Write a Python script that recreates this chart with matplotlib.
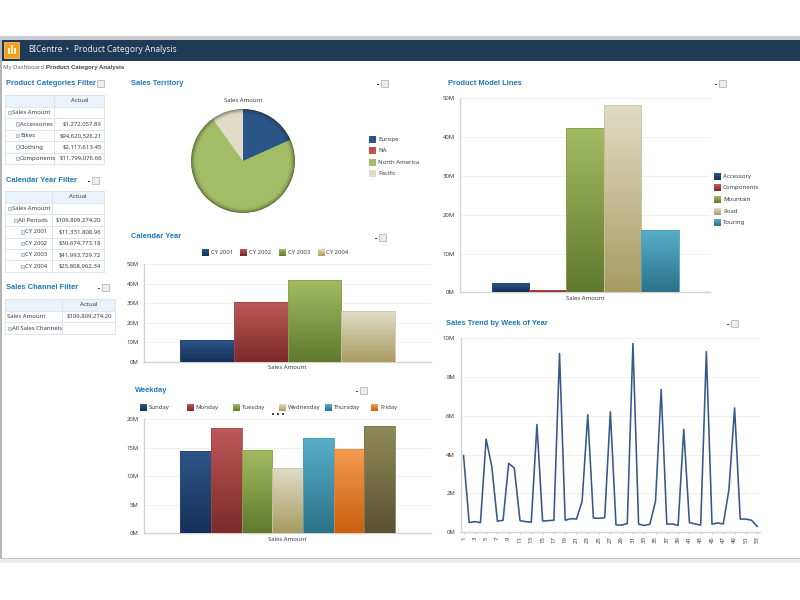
#!/usr/bin/env python3
"""BI dashboard: Product Category Analysis, redrawn with matplotlib."""

import numpy as np
import matplotlib
matplotlib.use("Agg")
import matplotlib.pyplot as plt
from matplotlib.colors import LinearSegmentedColormap, to_rgb
from matplotlib.patches import Rectangle

plt.rcParams["font.family"] = ["Noto Sans", "DejaVu Sans"]

W, H = 800, 600
TEXT = "#3c3c3c"
HEAD = "#1f78b8"
GRID = "#f0f0f0"
AXIS = "#d4d2cc"
SMALL = 4.3
BOLD_FONT = ["Liberation Sans", "DejaVu Sans"]

# ── data ──────────────────────────────────────────────────────────────
territories = ["Europe", "NA", "North America", "Pacific"]
territory_share = [18.3, 0.0, 71.8, 9.9]

years = ["CY 2001", "CY 2002", "CY 2003", "CY 2004"]
year_sales = [11.33, 30.67, 41.99, 25.81]

weekdays = ["Sunday", "Monday", "Tuesday", "Wednesday", "Thursday", "Friday", "Saturday"]
weekday_sales = [14.45, 18.5, 14.6, 11.5, 16.8, 14.85, 18.9]

model_lines = ["Accessory", "Components", "Mountain", "Road", "Touring"]
model_sales = [2.5, 0.5, 42.4, 48.4, 16.0]

weeks = list(range(1, 54))
week_sales = [3.95, 0.5, 0.55, 0.5, 4.8, 3.4, 0.57, 0.62, 3.55, 3.3,
              0.6, 0.55, 0.52, 5.55, 0.58, 0.6, 0.62, 9.2, 0.62, 0.7,
              0.68, 1.6, 6.05, 0.73, 0.72, 0.75, 6.2, 0.38, 0.37, 0.45,
              9.72, 0.42, 0.35, 0.42, 1.6, 7.35, 0.42, 0.43, 0.35, 5.3,
              0.5, 0.43, 0.37, 9.3, 0.42, 0.48, 0.43, 2.2, 6.4, 0.68,
              0.68, 0.62, 0.3]

cat_rows = ["Accessories", "Bikes", "Clothing", "Components"]
cat_values = ["$1,272,057.89", "$94,620,526.21", "$2,117,613.45", "$11,799,076.66"]
cal_rows = ["All Periods", "CY 2001", "CY 2002", "CY 2003", "CY 2004"]
cal_values = ["$109,809,274.20", "$11,331,808.96", "$30,674,773.18",
              "$41,993,729.72", "$25,808,962.34"]

# (top colour, bottom colour) of each bar gradient
BLUE = ("#2f5688", "#14305a")
RED = ("#bd5a58", "#7c2a2a")
GREEN = ("#a3bc62", "#5f7a2e")
SAND = ("#e0dcc6", "#a89c62")
TEAL = ("#58aecb", "#2a7388")
ORANGE = ("#f59c50", "#c8600f")
OLIVE = ("#8f8a58", "#5a5232")


def px_axes(fig, left, top, right, bottom):
    """Axes placed by reference-image pixels."""
    return fig.add_axes([left / W, 1 - bottom / H, (right - left) / W, (bottom - top) / H])


def mix_color(a, b, t):
    return tuple(x * (1 - t) + y * t for x, y in zip(to_rgb(a), to_rgb(b)))


def gradient_bars(ax, values, palette, width):
    n = len(values)
    xs = (np.arange(n) - (n - 1) / 2) * width
    bars = ax.bar(xs, values, width=width, color="none", zorder=4)
    for bar, (top, bottom) in zip(bars, palette):
        cmap = LinearSegmentedColormap.from_list("bar", [bottom, top])
        x0, y1 = bar.get_x(), bar.get_height()
        im = ax.imshow(np.linspace(1, 0, 64).reshape(-1, 1), cmap=cmap, aspect="auto",
                       extent=(x0, x0 + bar.get_width(), 0, y1), zorder=3)
        im.set_clip_path(bar)
        bar.set_edgecolor(mix_color(top, bottom, 0.35))
        bar.set_linewidth(0.6)
    return bars


def style_axes(ax, ymax, step, label=None):
    ax.set_ylim(0, ymax)
    ax.set_yticks(np.arange(0, ymax + 0.1, step))
    ax.set_yticklabels([f"{int(v)}M" for v in np.arange(0, ymax + 0.1, step)])
    ax.grid(True, axis="y", color=GRID, linewidth=0.7, zorder=0)
    ax.set_axisbelow(True)
    for side in ("top", "right"):
        ax.spines[side].set_visible(False)
    for side in ("left", "bottom"):
        ax.spines[side].set_color(AXIS)
        ax.spines[side].set_linewidth(1.0)
    ax.tick_params(axis="y", length=0, labelsize=SMALL, colors=TEXT, pad=4)
    if label:
        ax.set_xlim(-0.5, 0.5)
        ax.set_xticks([0])
        ax.set_xticklabels([label])
        ax.tick_params(axis="x", length=0, labelsize=SMALL, colors=TEXT, pad=2.5)


fig = plt.figure(figsize=(W / 100, H / 100), dpi=100, facecolor="white")

# page chrome, drawn in pixel coordinates
bg = fig.add_axes([0, 0, 1, 1], zorder=0)
bg.set_xlim(0, W)
bg.set_ylim(H, 0)
bg.axis("off")
bg.add_patch(Rectangle((0, 36), W, 3.5, fc="#c8ccd2", ec="none"))
bg.add_patch(Rectangle((0, 39.5), W, 21, fc="#1f3a54", ec="none"))
bg.add_patch(Rectangle((0, 40), 1.5, 518, fc="#b4b4b4", ec="none"))
bg.add_patch(Rectangle((0, 558), W, 5, fc="#ececec", ec="none"))
bg.add_patch(Rectangle((0, 558), W, 1.2, fc="#c6c6c6", ec="none"))
bg.add_patch(Rectangle((4, 42), 15, 16, fc="#f4a01c", ec="#f7c46a", lw=0.6))
for bx, bh in zip((7.5, 10.5, 13.5), (6, 9, 6)):
    bg.add_patch(Rectangle((bx, 54 - bh), 2, bh, fc="#fff2d0", ec="none"))
bg.text(28, 50, "BICentre", color="#e4eaf0", fontsize=6.0, va="center")
bg.text(67, 50, "\u2023", color="#e4eaf0", fontsize=6, va="center", ha="center")
bg.text(74, 50, "Product Category Analysis", color="#e4eaf0", fontsize=6.0, va="center")
bg.text(3, 67.5, "My Dashboard :", color="#666666", fontsize=SMALL, va="center")
bg.text(46, 67.5, "Product Category Analysis", color="#444444", fontsize=SMALL + 0.1,
        va="center", fontweight="bold", family=BOLD_FONT)


def heading(x, y, title, box_x):
    bg.text(x, y, title, color=HEAD, fontsize=5.4, fontweight="bold", va="center",
            family=BOLD_FONT)
    bg.add_patch(Rectangle((box_x - 4, y + 0.5), 1.6, 1, fc="#444444", ec="none"))
    bg.add_patch(Rectangle((box_x, y - 3.5), 7, 7, fc="#ececec", ec="#b8b8b8", lw=0.6))


heading(6, 83.5, "Product Categories Filter", 96.5)
heading(6, 180, "Calendar Year Filter", 92)
heading(6, 287.5, "Sales Channel Filter", 102)
heading(131, 83.5, "Sales Territory", 381)
heading(131, 237, "Calendar Year", 379)
heading(135, 390, "Weekday", 360)
heading(448, 83.5, "Product Model Lines", 719)
heading(446, 323.5, "Sales Trend by Week of Year", 731)


def table(left, split, right, rows_y, labels, values):
    """Pivot-style filter table: header row, then (label, indent, expander) rows."""
    bg.add_patch(Rectangle((left, rows_y[0]), right - left, rows_y[1] - rows_y[0],
                           fc="#eaf2fb", ec="none"))
    for y in rows_y:
        bg.plot([left, right], [y, y], color="#d6e2ee", lw=0.6)
    for x in (left, split, right):
        bg.plot([x, x], [rows_y[0], rows_y[-1]], color="#d6e2ee", lw=0.6)
    bg.text((split + right) / 2, (rows_y[0] + rows_y[1]) / 2, "Actual",
            color=TEXT, fontsize=SMALL, ha="center", va="center")
    for i, ((label, indent, box), value) in enumerate(zip(labels, values)):
        ym = (rows_y[i + 1] + rows_y[i + 2]) / 2
        tx = left + indent
        if box:
            bg.add_patch(Rectangle((tx, ym - 1.6), 3.4, 3.4, fc="#dde6f0", ec="#8a9bb0", lw=0.4))
            tx += 4
        bg.text(tx, ym, label, color=TEXT, fontsize=SMALL, va="center")
        if value:
            bg.text(right - 2.5, ym, value, color=TEXT, fontsize=SMALL, va="center", ha="right")


table(5, 54.3, 104.3, [95, 106.7, 118.3, 129.7, 141.3, 152.7, 164.3],
      [("Sales Amount", 3, True)] + [(r, 11, True) for r in cat_rows],
      [""] + cat_values)
table(5, 51.7, 103.7, [191, 202.7, 214.3, 226, 237.7, 249, 260.3, 272],
      [("Sales Amount", 3, True), (cal_rows[0], 9, True)] + [(r, 16, True) for r in cal_rows[1:]],
      [""] + cal_values)
table(5, 62.3, 114.7, [299, 310.7, 322.3, 334],
      [("Sales Amount", 2, False), ("All Sales Channels", 3, True)],
      ["$109,809,274.20", ""])


def legend_swatch(x, y, label, colors, size=7):
    cmap = LinearSegmentedColormap.from_list("sw", [colors[1], colors[0]])
    bg.imshow(np.linspace(1, 0, 16).reshape(-1, 1), cmap=cmap, aspect="auto",
              extent=(x, x + size, y + size / 2, y - size / 2), zorder=2)
    bg.text(x + size + 2, y, label, color=TEXT, fontsize=SMALL, va="center")


bg.set_xlim(0, W)
bg.set_ylim(H, 0)

# pie: stacked discs, each wedge darkening toward its own rim
pie_colors = ["#2b5587", "#c0504d", "#a3bd66", "#e0dcc8"]
pie_ax = px_axes(fig, 191, 109, 295, 213)
for r, shade in zip(np.linspace(1.0, 0.89, 12), np.linspace(1.0, 0.0, 12) ** 2 * 0.5):
    shades = [mix_color(col, "#1c2410", shade) for col in pie_colors]
    pie_ax.pie(territory_share, colors=shades, radius=r, startangle=90, counterclock=False,
               wedgeprops={"linewidth": 0})
pie_ax.set_xlim(-1, 1)
pie_ax.set_ylim(-1, 1)
bg.text(243.5, 101, "Sales Amount", color=TEXT, fontsize=SMALL, ha="center", va="center")
for i, (name, col) in enumerate(zip(territories, pie_colors)):
    legend_swatch(369, 139.3 + i * 11.5, name, (col, col))

# calendar year
ax = px_axes(fig, 144.3, 264, 431, 362)
style_axes(ax, 50, 10, "Sales Amount")
gradient_bars(ax, year_sales, [BLUE, RED, GREEN, SAND], 0.75 / len(years))
ax.set_xlim(-0.5, 0.5)
ax.set_ylim(0, 50)
for x, name, col in zip((202, 240, 279, 317.5), years, (BLUE, RED, GREEN, SAND)):
    legend_swatch(x, 253, name, col)

# weekday
ax = px_axes(fig, 144.3, 419.3, 431, 533.3)
style_axes(ax, 20, 5, "Sales Amount")
week_palette = [BLUE, RED, GREEN, SAND, TEAL, ORANGE, OLIVE]
gradient_bars(ax, weekday_sales, week_palette, 0.75 / len(weekdays))
ax.set_xlim(-0.5, 0.5)
ax.set_ylim(0, 20)
for x, name, col in zip((140, 186.5, 232.5, 278.5, 325, 371), weekdays[:6], week_palette):
    legend_swatch(x, 408, name, col)
for x in (272, 277, 282):
    bg.add_patch(Rectangle((x, 413), 1.5, 1.5, fc="#444444", ec="none"))

# product model lines
ax = px_axes(fig, 460.3, 98.3, 710, 292.3)
style_axes(ax, 50, 10, "Sales Amount")
model_palette = [BLUE, RED, GREEN, SAND, TEAL]
gradient_bars(ax, model_sales, model_palette, 0.75 / len(model_lines))
ax.set_xlim(-0.5, 0.5)
ax.set_ylim(0, 50)
for i, (name, col) in enumerate(zip(model_lines, model_palette)):
    legend_swatch(714, 176.3 + i * 11.6, name, col)

# weekly trend
ax = px_axes(fig, 460.7, 338, 760, 532.3)
style_axes(ax, 10, 2)
ax.plot(weeks, week_sales, color="#34598a", linewidth=1.15, zorder=3)
ax.set_xlim(0.5, 53.5)
ax.set_xticks(weeks[::2])
ax.set_xticklabels([str(w) for w in weeks[::2]], rotation=90)
ax.tick_params(axis="x", length=1.5, color=AXIS, labelsize=SMALL, labelcolor=TEXT, pad=1.5)

fig.savefig("out.png", dpi=100, facecolor="white")
